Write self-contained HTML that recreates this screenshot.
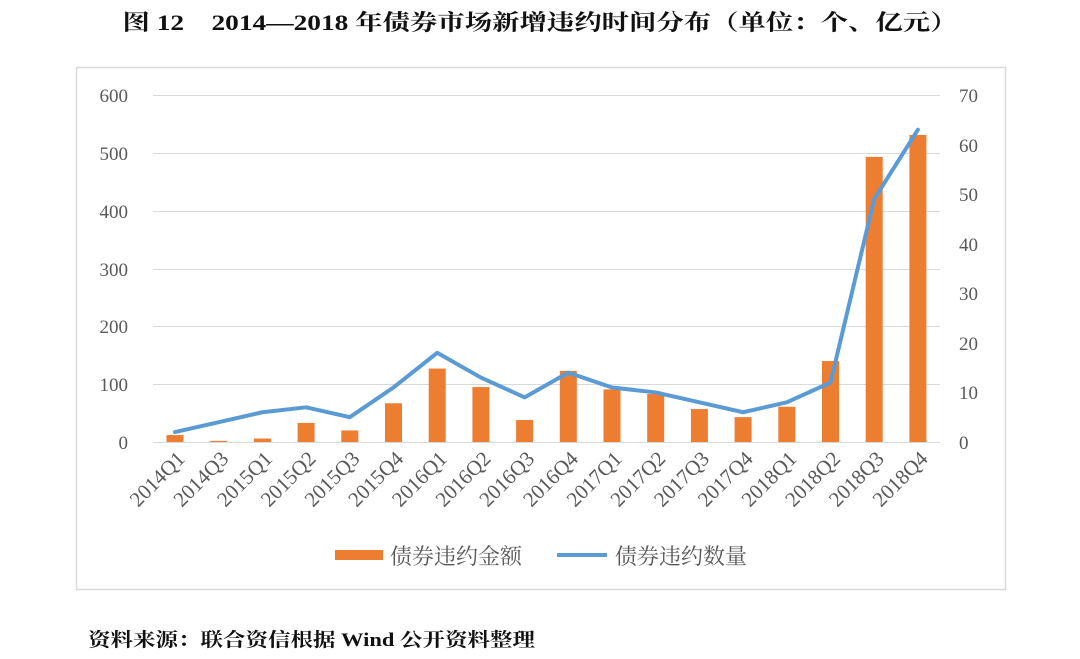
<!DOCTYPE html>
<html><head><meta charset="utf-8"><style>
html,body{margin:0;padding:0;background:#fff;width:1080px;height:659px;overflow:hidden}
</style></head><body>
<svg width="1080" height="659" xmlns="http://www.w3.org/2000/svg" font-family="'Liberation Serif','Noto Serif CJK SC',serif">
<text x="540" y="30" text-anchor="middle" font-size="22" font-weight="bold" fill="#111" textLength="835" lengthAdjust="spacingAndGlyphs">图 12　2014—2018 年债券市场新增违约时间分布（单位：个、亿元）</text>
<rect x="76.5" y="67.5" width="929" height="522" fill="#fff" stroke="#d9d9d9" stroke-width="1.5"/>
<g stroke="#d9d9d9" stroke-width="1">
<line x1="153" y1="95.5" x2="940" y2="95.5"/>
<line x1="153" y1="153.5" x2="940" y2="153.5"/>
<line x1="153" y1="211.5" x2="940" y2="211.5"/>
<line x1="153" y1="269.5" x2="940" y2="269.5"/>
<line x1="153" y1="326.5" x2="940" y2="326.5"/>
<line x1="153" y1="384.5" x2="940" y2="384.5"/>
<line x1="153" y1="442.5" x2="940" y2="442.5"/>
</g>
<g font-size="19" fill="#595959" text-anchor="end">
<text x="128" y="102">600</text><text x="128" y="160">500</text><text x="128" y="218">400</text>
<text x="128" y="276">300</text><text x="128" y="333">200</text><text x="128" y="391">100</text><text x="128" y="449">0</text>
</g>
<g font-size="19" fill="#595959" text-anchor="start">
<text x="959" y="102">70</text><text x="959" y="152">60</text><text x="959" y="201">50</text>
<text x="959" y="251">40</text><text x="959" y="300">30</text><text x="959" y="350">20</text>
<text x="959" y="399">10</text><text x="959" y="449">0</text>
</g>
<g fill="#ed7d31" id="bars"></g>
<polyline id="line" fill="none" stroke="#5b9bd5" stroke-width="4" stroke-linejoin="round" stroke-linecap="round"/>
<g id="labels" font-size="21" fill="#595959"></g>
<rect x="335" y="550" width="48" height="10" fill="#ed7d31"/>
<text x="390" y="564" font-size="22" fill="#595959">债券违约金额</text>
<line x1="557" y1="555" x2="607" y2="555" stroke="#5b9bd5" stroke-width="4"/>
<text x="615" y="564" font-size="22" fill="#595959">债券违约数量</text>
<text x="88" y="646" font-size="19" font-weight="bold" fill="#111" textLength="447" lengthAdjust="spacingAndGlyphs">资料来源：联合资信根据 Wind 公开资料整理</text>
</svg>
<script>
var cats=["2014Q1","2014Q3","2015Q1","2015Q2","2015Q3","2015Q4","2016Q1","2016Q2","2016Q3","2016Q4","2017Q1","2017Q2","2017Q3","2017Q4","2018Q1","2018Q2","2018Q3","2018Q4"];
var amt=[12,2,6,33,20,67,127,95,38,123,91,83,57,43,61,140,493,531];
var cnt=[2,4,6,7,5,11,18,13,9,14,11,10,8,6,8,12,49,63];
var ns="http://www.w3.org/2000/svg",b=document.getElementById("bars"),l=document.getElementById("labels"),pts=[];
for(var i=0;i<18;i++){var cx=175+i*43.7;
var r=document.createElementNS(ns,"rect"),h=amt[i]*0.5783;
r.setAttribute("x",cx-8.5);r.setAttribute("width",17);r.setAttribute("y",442-h);r.setAttribute("height",h);b.appendChild(r);
pts.push(cx+","+(442-cnt[i]*4.957));
var t=document.createElementNS(ns,"text");t.setAttribute("text-anchor","end");
t.setAttribute("transform","translate("+(cx+11)+",460) rotate(-45)");t.textContent=cats[i];l.appendChild(t);}
document.getElementById("line").setAttribute("points",pts.join(" "));
</script>
</body></html>
